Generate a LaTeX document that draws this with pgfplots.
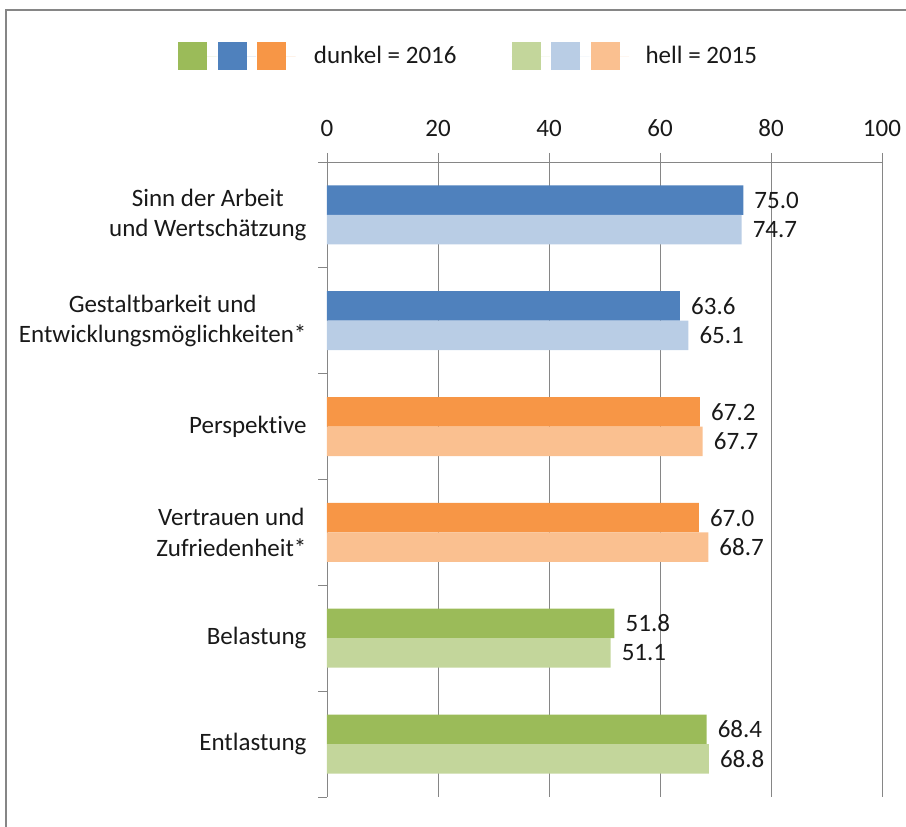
\documentclass[border=0pt]{standalone}
\usepackage{fontspec}
\setmainfont{Carlito}[Ligatures=NoCommon]
\usepackage{pgfplots}
\pgfplotsset{compat=1.18}
\definecolor{dg}{HTML}{9BBB59}
\definecolor{db}{HTML}{4F81BD}
\definecolor{do}{HTML}{F79646}
\definecolor{lg}{HTML}{C3D69B}
\definecolor{lb}{HTML}{B9CDE5}
\definecolor{lo}{HTML}{FAC090}
\definecolor{gridc}{HTML}{868686}
\newcommand{\cf}{\fontsize{25}{30.5}\selectfont}
\pgfplotsset{sq/.style={legend image code/.code={\fill[##1] (0pt,-14pt) rectangle (29pt,14pt); \path (0pt,0pt) -- (38.5pt,0pt);}}}
\begin{document}
\begin{tikzpicture}
\useasboundingbox (0,0) rectangle (906pt,827pt);
\draw[gridc, line width=1.5pt] (6pt,-20pt) -- (6pt,817pt) -- (930pt,817pt);
\begin{axis}[
  at={(327pt,30pt)}, anchor=south west,
  scale only axis, width=555pt, height=635pt,
  xbar, bar width=29.5pt,
  xmin=0, xmax=100, ymin=-0.5, ymax=5.5,
  axis x line*=top, axis y line*=left,
  axis line style={draw=gridc, line width=0.8pt, -},
  xtick={0,20,...,100},
  ytick={0,...,5},
  yticklabels={Entlastung, Belastung, {Vertrauen und\\Zufriedenheit*}, Perspektive, {Gestaltbarkeit und\\Entwicklungsmöglichkeiten*}, {Sinn der Arbeit\\und Wertschätzung}},
  minor ytick={-0.5,0.5,...,5.5},
  tick align=outside,
  major tick length=9pt, minor tick length=9pt,
  every major x tick/.append style={draw=gridc, line width=0.8pt},
  every major y tick/.append style={draw=none},
  every minor y tick/.append style={draw=gridc, line width=0.8pt},
  xmajorgrids, major grid style={draw=gridc, line width=0.8pt},
  /pgf/number format/assume math mode=true,
  tick label style={font=\cf, text=black!90},
  yticklabel style={align=center, xshift=-8pt},
  xticklabel style={yshift=13pt},
  nodes near coords, point meta=explicit symbolic,
  every node near coord/.append style={font=\cf, anchor=west, inner sep=0pt, xshift=11pt, text=black!90},
  legend columns=6,
  legend style={draw=none, fill=none, at={(-0.26847,1.1669)}, anchor=west, inner sep=0pt, outer sep=0pt, column sep=0pt, nodes={inner sep=0pt, font=\cf, text=black!90}},
  clip=false,
]
\addplot[fill=dg, draw=none, bar shift=14.75pt, sq] coordinates {(68.4,0) [68.4] (51.8,1) [51.8]};
\addlegendentry{\hspace*{0pt}}
\addplot[fill=db, draw=none, bar shift=14.75pt, sq] coordinates {(63.6,4) [63.6] (75.0,5) [75.0]};
\addlegendentry{\hspace*{0pt}}
\addplot[fill=do, draw=none, bar shift=14.75pt, sq] coordinates {(67.0,2) [67.0] (67.2,3) [67.2]};
\addlegendentry{\hspace*{18.5pt}dunkel = 2016\hspace*{55pt}}
\addplot[fill=lg, draw=none, bar shift=-14.75pt, sq] coordinates {(68.8,0) [68.8] (51.1,1) [51.1]};
\addlegendentry{\hspace*{0pt}}
\addplot[fill=lb, draw=none, bar shift=-14.75pt, sq] coordinates {(65.1,4) [65.1] (74.7,5) [74.7]};
\addlegendentry{\hspace*{0pt}}
\addplot[fill=lo, draw=none, bar shift=-14.75pt, sq] coordinates {(68.7,2) [68.7] (67.7,3) [67.7]};
\addlegendentry{\hspace*{16.5pt}hell = 2015}
\end{axis}
\end{tikzpicture}
\end{document}
